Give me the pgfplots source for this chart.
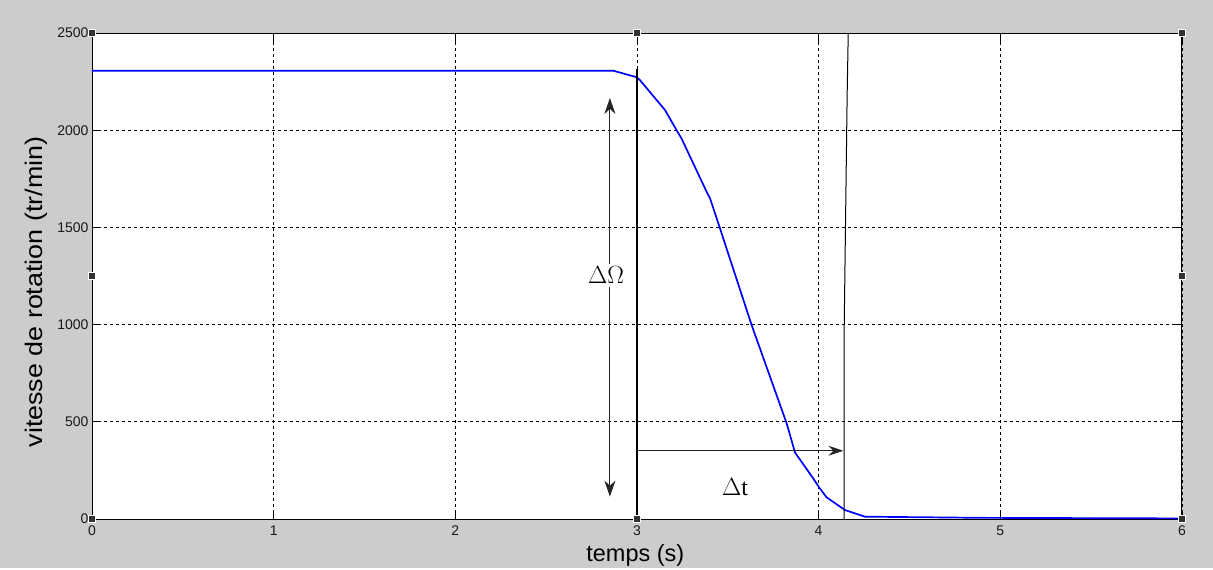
\documentclass[border=0pt]{standalone}
\usepackage{pgfplots}
\pgfplotsset{compat=1.18}
\usepackage{fontspec}
\setmainfont{Liberation Sans}
\newfontfamily\seriffont{Liberation Serif}
\newfontfamily\ylabfont[FakeStretch=1.12]{Liberation Sans}
\usetikzlibrary{arrows.meta}
\definecolor{figgray}{RGB}{204,204,204}
\definecolor{mblue}{RGB}{0,0,255}
\definecolor{handle}{RGB}{50,50,50}
\begin{document}
\begin{tikzpicture}
\fill[figgray] (-92pt,-49pt) rectangle (1121pt,519pt);
\begin{axis}[
  at={(0pt,0pt)}, anchor=south west,
  scale only axis, width=1090pt, height=486pt,
  xmin=0, xmax=6, ymin=0, ymax=2500,
  enlargelimits=false,
  xtick={0,1,2,3,4,5,6}, ytick={0,500,1000,1500,2000,2500},
  axis background/.style={fill=white},
  axis line style={black, line width=0.9pt},
  tick align=inside, major tick length=9pt,
  tick style={black, line width=0.8pt},
  xmajorgrids, ymajorgrids,
  grid style={black, line width=0.7pt, dash pattern=on 3pt off 3pt},
  /pgf/number format/assume math mode=true,
  /pgf/number format/1000 sep={},
  tick label style={font=\fontsize{14}{16}\selectfont, text=black!90},
  xticklabel style={yshift=-3pt},
  xlabel={temps (s)},
  ylabel={vitesse de rotation (tr/min)},
  xlabel style={font=\fontsize{23.5}{26}\selectfont, at={(axis description cs:0.4985,-0.074)}, anchor=center},
  ylabel style={font=\ylabfont\fontsize{24}{26}\selectfont, at={(axis description cs:-0.0514,0.467)}, anchor=center},
  clip=false,
]
\addplot[mblue, line width=1.7pt] coordinates {
(0,2306) (2.87,2306) (3.0,2272) (3.016,2258) (3.154,2104) (3.218,2000)
(3.245,1958) (3.383,1684) (3.402,1650) (3.457,1495) (3.631,998)
(3.824,492) (3.870,342) (3.970,209) (4.006,158) (4.043,112)
(4.145,46) (4.255,12) (4.9,6) (6,3)
};
% annotation lines
\addplot[black, line width=1.1pt] coordinates {(3,2315) (3,0)};
\addplot[black, line width=1pt] coordinates {(4.163,2500) (4.157,2180) (4.141,1000) (4.14,0)};
\addplot[black!85, line width=1pt, {Stealth[length=16pt,width=11pt,inset=5pt]}-{Stealth[length=16pt,width=11pt,inset=5pt]}] coordinates {(2.851,115) (2.851,2166)};
\addplot[black!85, line width=1pt, -{Stealth[length=15pt,width=10pt,inset=5pt]}] coordinates {(3,351) (4.136,351)};
\node[fill=white, inner sep=3pt, font=\seriffont\fontsize{24}{26}\selectfont] at (axis cs:2.83,1255) {$\Delta\Omega$};
\node[font=\seriffont\fontsize{24}{26}\selectfont] at (axis cs:3.54,165) {$\Delta$t};
% selection handles
\addplot[only marks, mark=square*, mark size=3.5pt, mark options={fill=handle, draw=white, line width=0.5pt}] coordinates {
(0,0) (0,1250) (0,2500) (3,2500) (6,2500) (6,1250) (6,0) (3,0)
};
\end{axis}
\end{tikzpicture}
\end{document}
